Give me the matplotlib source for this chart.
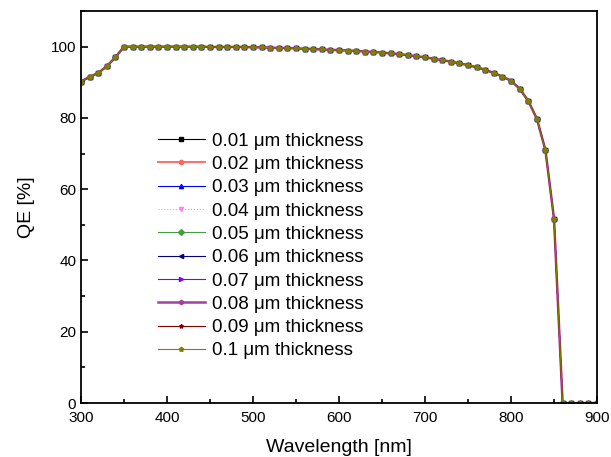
import numpy as np
import matplotlib
matplotlib.use('Agg')
import matplotlib.pyplot as plt
from matplotlib.ticker import MultipleLocator

plt.rcParams['font.family'] = ['Liberation Sans', 'DejaVu Sans']

# wavelength grid, 10 nm steps
wl = [300, 310, 320, 330, 340, 350, 360, 370, 380, 390,
      400, 410, 420, 430, 440, 450, 460, 470, 480, 490,
      500, 510, 520, 530, 540, 550, 560, 570, 580, 590,
      600, 610, 620, 630, 640, 650, 660, 670, 680, 690,
      700, 710, 720, 730, 740, 750, 760, 770, 780, 790,
      800, 810, 820, 830, 840, 850, 860, 870, 880, 890, 900]

# QE [%] (all thicknesses lie on top of each other)
qe = [90.2, 91.5, 92.6, 94.5, 97.0, 100.0, 100.0, 100.0, 100.0, 100.0,
      100.0, 100.0, 100.0, 100.0, 100.0, 99.9, 99.9, 99.9, 99.9, 99.9,
      99.8, 99.8, 99.7, 99.6, 99.6, 99.5, 99.4, 99.3, 99.2, 99.1,
      99.0, 98.9, 98.8, 98.6, 98.5, 98.3, 98.1, 97.9, 97.6, 97.3,
      97.0, 96.6, 96.2, 95.8, 95.3, 94.8, 94.2, 93.5, 92.6, 91.6,
      90.4, 88.2, 84.8, 79.8, 71.0, 51.7, 0.0, 0.0, 0.0, 0.0, 0.0]

labels = ['0.01 \u03bcm thickness', '0.02 \u03bcm thickness', '0.03 \u03bcm thickness',
          '0.04 \u03bcm thickness', '0.05 \u03bcm thickness', '0.06 \u03bcm thickness',
          '0.07 \u03bcm thickness', '0.08 \u03bcm thickness', '0.09 \u03bcm thickness',
          '0.1 \u03bcm thickness']

colors = ['black', '#ff6060', 'blue', '#ff80ff', '#40a040', '#000080',
          '#8000ff', '#a040a0', '#800000', '#808000']
markers = ['s', 'o', '^', 'v', 'D', '<', '>', 'h', '*', 'p']
styles = ['-', '-', '-', ':', '-', '-', '-', '-', '-', '-']
widths = [0.8, 1.3, 0.8, 0.8, 0.8, 0.8, 0.8, 1.8, 0.8, 0.8]

fig = plt.figure(figsize=(6.11, 4.57), dpi=100)
ax = fig.add_axes([0.1326, 0.118, 0.8445, 0.858])

for lab, c, m, ls, lw in zip(labels, colors, markers, styles, widths):
    ax.plot(wl, qe, color=c, marker=m, markersize=3, linestyle=ls,
            linewidth=lw, label=lab)

ax.set_xlim(300, 900)
ax.set_ylim(0, 110)
ax.xaxis.set_major_locator(MultipleLocator(100))
ax.xaxis.set_minor_locator(MultipleLocator(50))
ax.yaxis.set_major_locator(MultipleLocator(20))
ax.yaxis.set_minor_locator(MultipleLocator(10))
ax.tick_params(which='both', direction='in', top=False, right=False,
               labelsize=11, width=1.2)
ax.tick_params(which='major', length=5)
ax.tick_params(which='minor', length=3)
ax.tick_params(axis='x', pad=6)
for s in ax.spines.values():
    s.set_linewidth(1.3)

ax.set_xlabel('Wavelength [nm]', fontsize=14, labelpad=10)
ax.set_ylabel('QE [%]', fontsize=14, labelpad=11)

ax.legend(loc='upper left', bbox_to_anchor=(0.149, 0.69), frameon=False,
          fontsize=13.5, handlelength=2.5, handletextpad=0.4, labelspacing=0.33,
          borderpad=0, borderaxespad=0)

fig.savefig('out.png', dpi=100)
